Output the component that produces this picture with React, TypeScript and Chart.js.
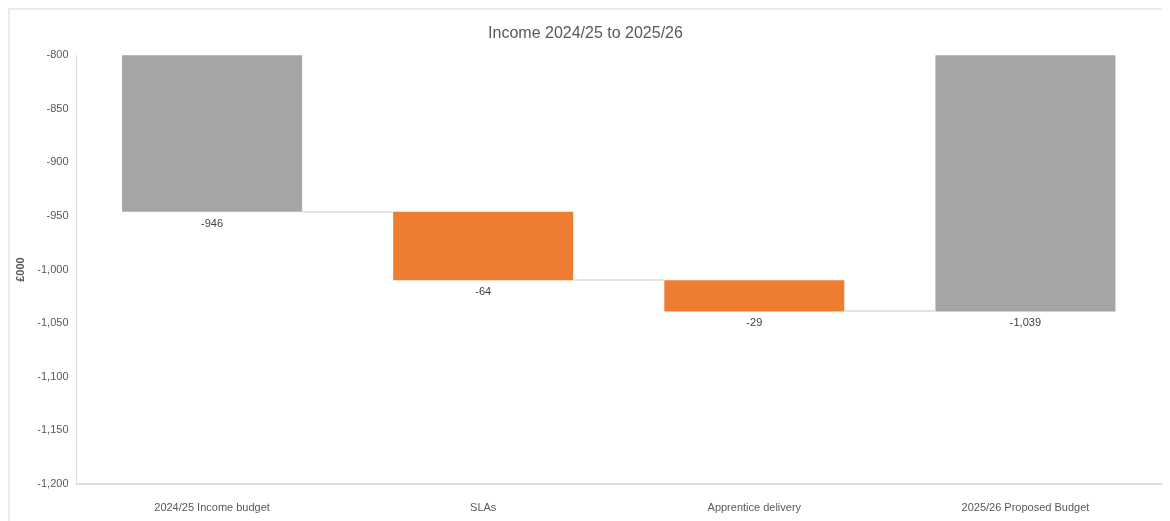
import React, { useEffect, useRef } from "react";
import { Chart, registerables } from "chart.js";

Chart.register(...registerables);

const categories = [
  "2024/25 Income budget",
  "SLAs",
  "Apprentice delivery",
  "2025/26 Proposed Budget",
];
const values = [-946, -64, -29, -1039];
const isTotal = [true, false, false, true];
const yMin = -1200;
const yMax = -800;
const yStep = 50;

const GREY = "#a5a5a5";
const ORANGE = "#ed7d31";
const FONT = "'Liberation Sans Narrow', 'Liberation Sans', Arial, sans-serif";

function buildRanges() {
  const ranges: [number, number][] = [];
  const levels: number[] = [];
  let running = 0;
  values.forEach((v, i) => {
    if (isTotal[i]) {
      ranges.push([0, v]);
      running = v;
    } else {
      ranges.push([running, running + v]);
      running = running + v;
    }
    levels.push(running);
  });
  return { ranges, levels };
}

export default function App() {
  const ref = useRef<HTMLCanvasElement | null>(null);

  useEffect(() => {
    document.body.style.overflow = "hidden";
    const { ranges, levels } = buildRanges();

    const waterfallPlugin = {
      id: "waterfallExtras",
      afterDatasetsDraw(chart: any) {
        const ctx = chart.ctx;
        const meta = chart.getDatasetMeta(0);
        const y = chart.scales.y;
        ctx.save();
        // connectors
        ctx.strokeStyle = "#e3e3e3";
        ctx.lineWidth = 2;
        for (let i = 0; i < meta.data.length - 1; i++) {
          const a = meta.data[i];
          const b = meta.data[i + 1];
          const py = Math.round(y.getPixelForValue(levels[i]));
          ctx.beginPath();
          ctx.moveTo(a.x + a.width / 2, py);
          ctx.lineTo(b.x - b.width / 2, py);
          ctx.stroke();
        }
        // labels
        ctx.fillStyle = "#404040";
        ctx.font = `11px ${FONT}`;
        ctx.textAlign = "center";
        ctx.textBaseline = "middle";
        meta.data.forEach((bar: any, i: number) => {
          const py = y.getPixelForValue(levels[i]);
          ctx.fillText(values[i].toLocaleString("en-US"), bar.x, py + 12);
        });
        ctx.restore();
      },
    };

    const chart = new Chart(ref.current as HTMLCanvasElement, {
      type: "bar",
      data: {
        labels: categories,
        datasets: [
          {
            data: ranges as any,
            backgroundColor: values.map((_, i) => (isTotal[i] ? GREY : ORANGE)),
            borderWidth: 0,
            barPercentage: 0.664,
            categoryPercentage: 1,
          },
        ],
      },
      options: {
        animation: false,
        responsive: false,
        maintainAspectRatio: false,
        layout: { padding: { left: 0, right: 5, top: 0, bottom: 0 } },
        plugins: {
          legend: { display: false },
          tooltip: { enabled: false },
          title: {
            display: true,
            text: "Income 2024/25 to 2025/26",
            color: "#595959",
            font: { family: FONT, size: 16, weight: "normal" },
            padding: { top: 14, bottom: 12 },
          },
        },
        scales: {
          x: {
            grid: { display: false, drawTicks: false },
            border: { display: true, color: "#dedede", width: 2 },
            ticks: {
              color: "#595959",
              font: { family: FONT, size: 11 },
              padding: 17,
              maxRotation: 0,
            },
            afterFit(scale: any) {
              scale.height = 52;
            },
          },
          y: {
            min: yMin,
            max: yMax,
            grid: { display: false, drawTicks: false },
            border: { display: true, color: "#dedede", width: 1 },
            ticks: {
              stepSize: yStep,
              color: "#595959",
              font: { family: FONT, size: 11 },
              padding: 8,
              callback: (v: any) => Number(v).toLocaleString("en-US"),
            },
            title: {
              display: true,
              text: "£000",
              color: "#595959",
              font: { family: FONT, size: 11, weight: "bold" },
              padding: { top: 4, bottom: 0 },
            },
            afterFit(scale: any) {
              scale.width = 66.5;
            },
          },
        },
      },
      plugins: [waterfallPlugin],
    });
    return () => chart.destroy();
  }, []);

  return (
    <div
      style={{
        width: 1156,
        height: 526,
        border: "2px solid #ececec",
        background: "#fff",
      }}
    >
      <canvas ref={ref} width={1156} height={526} style={{ display: "block" }} />
    </div>
  );
}
